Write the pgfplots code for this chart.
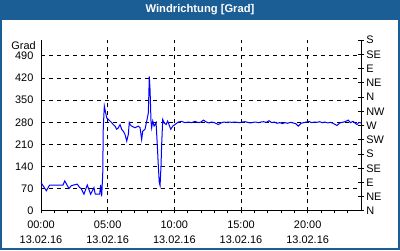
\documentclass[border=0pt]{standalone}
\usepackage{pgfplots}
\pgfplotsset{compat=1.18}
\usepackage{fontspec}
\setmainfont{Liberation Sans}
\definecolor{barblue}{RGB}{27,94,149}
\begin{document}
\begin{tikzpicture}[x=0.75pt,y=0.75pt,font=\fontsize{8.2}{11.25}\selectfont]
\useasboundingbox (0,0) rectangle (400,250);
\fill[white] (0,0) rectangle (400,250);
\fill[barblue] (0,230) rectangle (400,250);
\draw[barblue,line width=1.5pt] (0.75,0.75) rectangle (399.25,249.25);
\node[text=white,font=\fontsize{8.4}{10}\selectfont\bfseries] at (200,240) {Windrichtung [Grad]};
\node[anchor=east,inner sep=0pt] at (36,204) {Grad};
\begin{axis}[
  at={(30.75pt,29.25pt)}, anchor=origin,
  scale only axis, width=240pt, height=128.25pt,
  xmin=0, xmax=24, ymin=0, ymax=540,
  axis x line*=bottom, axis y line*=left,
  axis line style={black, line width=0.75pt, -},
  xtick={0,5,10,15,20},
  minor xtick={1,2,3,4,6,7,8,9,11,12,13,14,16,17,18,19,21,22,23},
  xticklabels={{00:00\\13.02.16},{05:00\\13.02.16},{10:00\\13.02.16},{15:00\\13.02.16},{20:00\\13.02.16}},
  xticklabel style={align=center, inner sep=0pt, yshift=-5.25pt},
  ytick={0,70,140,210,280,350,420,490},
  yticklabel style={inner sep=0pt, xshift=-3.75pt},
  /pgf/number format/assume math mode=true,
  tick align=outside,
  xtick style={black, line width=0.75pt},
  minor tick length=1.8pt, major tick length=1.8pt,
  ytick style={draw=none},
  grid=major,
  major grid style={black, dashed, line width=0.75pt, dash pattern=on 3pt off 3pt},
  clip=false,
]
\addplot[blue, line width=0.75pt] coordinates {
(0.0,90) (0.4,64) (0.65,82) (1.0,82) (1.65,82) (1.78,95) (2.1,71) (2.27,80)
(2.72,85) (2.9,74) (3.0,72) (3.22,53) (3.47,82) (3.72,53) (3.97,74) (4.07,53)
(4.4,53) (4.47,82) (4.55,46) (4.63,116) (4.67,263) (4.75,331) (4.85,310)
(4.93,294) (5.05,289) (5.18,284) (5.3,279) (5.42,273) (5.55,268) (5.68,258)
(5.8,263) (5.93,273) (6.05,258) (6.17,252) (6.3,242) (6.43,221) (6.55,242)
(6.62,279) (6.68,273) (6.8,268) (7.05,263) (7.3,268) (7.43,263) (7.55,226)
(7.63,252) (7.8,258) (7.93,284) (8.05,310) (8.1,389) (8.12,425) (8.18,383)
(8.25,284) (8.3,263) (8.38,284) (8.48,268) (8.63,279) (8.72,210) (8.8,142)
(8.87,90) (8.93,80) (9.0,142) (9.05,210) (9.13,289) (9.23,279) (9.38,273)
(9.5,284) (9.6,273) (9.73,258) (9.88,268)
(10.05,273) (10.3,281) (10.55,283) (10.8,279) (11.05,281) (11.3,279) (11.55,283)
(11.8,279) (12.0,281) (12.18,287) (12.4,281) (12.6,278) (12.8,281) (13.0,279)
(13.3,273) (13.5,278) (13.7,281) (13.9,280) (14.1,281) (14.3,280) (14.5,281)
(14.7,280) (14.9,279) (15.1,281) (15.3,282) (15.5,280) (15.7,278) (15.9,280)
(16.1,281) (16.3,279) (16.5,281) (16.7,282) (16.9,280) (17.1,285) (17.3,279)
(17.5,281) (17.7,277) (17.9,279) (18.1,276) (18.3,279) (18.5,277) (18.7,280)
(18.9,278) (19.1,276) (19.3,268) (19.5,277) (19.7,279) (19.9,281) (20.1,283)
(20.3,279) (20.5,281) (20.7,280) (20.9,282) (21.1,279) (21.3,281) (21.5,278)
(21.7,280) (21.9,277) (22.2,270) (22.4,278) (22.6,280) (22.8,282) (23.05,287)
(23.2,279) (23.4,283) (23.7,273) (23.85,280) (24.0,278)
};
\end{axis}
\begin{axis}[
  at={(30.75pt,29.25pt)}, anchor=origin,
  scale only axis, width=240pt, height=128.25pt,
  xmin=0, xmax=24, ymin=0, ymax=540,
  axis x line=none, axis y line*=right,
  axis line style={black, line width=0.75pt, -},
  ytick={0,45,...,540},
  yticklabels={N,NE,E,SE,S,SW,W,NW,N,NE,E,SE,S},
  yticklabel style={inner sep=0pt, xshift=1.5pt},
  tick align=center, major tick length=4.5pt,
  ytick style={black, line width=0.75pt},
]
\addplot[draw=none] coordinates {(0,0)};
\end{axis}
\end{tikzpicture}
\end{document}
